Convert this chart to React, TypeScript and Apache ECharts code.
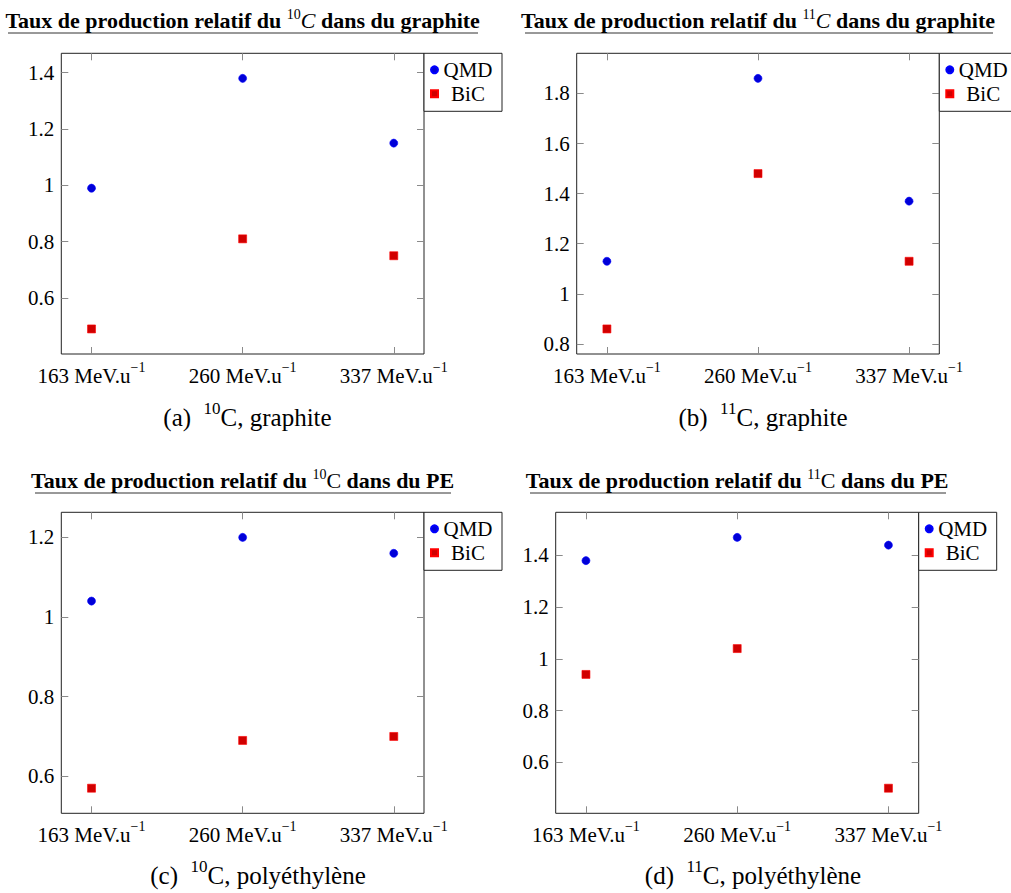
import React, { useEffect, useRef } from "react";
import * as echarts from "echarts";

const FONT = "'Liberation Serif', 'Times New Roman', serif";

const categories = ["163 MeV.u", "260 MeV.u", "337 MeV.u"];
const catSup = "−1";
const xPositions = [0, 1, 2];

const qmdA = [0.99, 1.38, 1.15];
const bicA = [0.49, 0.81, 0.75];
const qmdB = [1.13, 1.86, 1.37];
const bicB = [0.86, 1.48, 1.13];
const qmdC = [1.04, 1.2, 1.16];
const bicC = [0.57, 0.69, 0.7];
const qmdD = [1.38, 1.47, 1.44];
const bicD = [0.94, 1.04, 0.5];

const yTicksA = [0.6, 0.8, 1, 1.2, 1.4];
const yTicksB = [0.8, 1, 1.2, 1.4, 1.6, 1.8];
const yTicksC = [0.6, 0.8, 1, 1.2];
const yTicksD = [0.6, 0.8, 1, 1.2, 1.4];

const titleParts = [
  { iso: "10", matter: "graphite", italic: true },
  { iso: "11", matter: "graphite", italic: true },
  { iso: "10", matter: "PE", italic: false },
  { iso: "11", matter: "PE", italic: false },
];
const captionParts = [
  { tag: "(a)", iso: "10", matter: "graphite" },
  { tag: "(b)", iso: "11", matter: "graphite" },
  { tag: "(c)", iso: "10", matter: "polyéthylène" },
  { tag: "(d)", iso: "11", matter: "polyéthylène" },
];

// layout (pixels)
const grids = [
  { left: 61.3, top: 53.3, width: 362.7, height: 300.7 },
  { left: 576.7, top: 53.3, width: 362.6, height: 300.7 },
  { left: 61.3, top: 512.3, width: 362.7, height: 301 },
  { left: 555.7, top: 512.3, width: 363, height: 301 },
];
const titleY = [7, 7, 467, 467];
const underline = [
  { x1: 8, x2: 478, y: 33 },
  { x1: 525, x2: 993, y: 33 },
  { x1: 35, x2: 451, y: 493 },
  { x1: 530, x2: 946, y: 493 },
];
const captionPos = [
  { x: 247.5, y: 400 },
  { x: 763, y: 400 },
  { x: 258, y: 858 },
  { x: 753, y: 858 },
];

const BLUE_FILL = "#0000d8";
const BLUE_EDGE = "#0000ff";
const RED_FILL = "#d00000";
const RED_EDGE = "#ff0000";
const TICK = "#8a8a8a";

function enlarge(vals: number[]) {
  const lo = Math.min(...vals);
  const hi = Math.max(...vals);
  const pad = (hi - lo) * 0.1;
  return [lo - pad, hi + pad];
}

export default function App() {
  const ref = useRef<HTMLDivElement>(null);
  useEffect(() => {
    if (!ref.current) return;
    const chart = echarts.init(ref.current, null, { renderer: "svg" });
    const panels = [
      { qmd: qmdA, bic: bicA, ticks: yTicksA },
      { qmd: qmdB, bic: bicB, ticks: yTicksB },
      { qmd: qmdC, bic: bicC, ticks: yTicksC },
      { qmd: qmdD, bic: bicD, ticks: yTicksD },
    ];
    const xAxes: any[] = [];
    const yAxes: any[] = [];
    const series: any[] = [];
    const legends: any[] = [];
    const titles: any[] = [];
    const graphics: any[] = [];
    const tickStyle = { color: TICK, width: 1 };

    panels.forEach((p, i) => {
      const [ymin, ymax] = enlarge([...p.qmd, ...p.bic]);
      const g = grids[i];
      xAxes.push({
        type: "value",
        gridIndex: i,
        position: "bottom",
        min: -0.2,
        max: 2.2,
        axisLine: { show: false, onZero: false },
        splitLine: { show: false },
        axisTick: { show: true, inside: true, length: 7, customValues: xPositions, lineStyle: tickStyle },
        axisLabel: {
          show: true,
          customValues: xPositions,
          margin: 6,
          formatter: (v: number) => `{m|${categories[Math.round(v)]}}{s|${catSup}}`,
          rich: {
            m: { fontFamily: FONT, fontSize: 21, fontWeight: "normal", color: "#000", lineHeight: 26, verticalAlign: "bottom" },
            s: { fontFamily: FONT, fontSize: 14, fontWeight: "normal", color: "#000", lineHeight: 14, verticalAlign: "top" },
          },
        },
      });
      xAxes.push({
        type: "value",
        gridIndex: i,
        position: "top",
        min: -0.2,
        max: 2.2,
        axisLine: { show: false, onZero: false },
        splitLine: { show: false },
        axisLabel: { show: false },
        axisTick: { show: true, inside: true, length: 7, customValues: xPositions, lineStyle: tickStyle },
      });
      yAxes.push({
        type: "value",
        gridIndex: i,
        position: "left",
        min: ymin,
        max: ymax,
        axisLine: { show: false, onZero: false },
        splitLine: { show: false },
        axisTick: { show: true, inside: true, length: 7, customValues: p.ticks, lineStyle: tickStyle },
        axisLabel: {
          show: true,
          customValues: p.ticks,
          margin: 7,
          fontFamily: FONT,
          fontSize: 21,
          fontWeight: "normal",
          color: "#000",
          formatter: (v: number) => String(Math.round(v * 10) / 10),
        },
      });
      yAxes.push({
        type: "value",
        gridIndex: i,
        position: "right",
        min: ymin,
        max: ymax,
        axisLine: { show: false, onZero: false },
        splitLine: { show: false },
        axisLabel: { show: false },
        axisTick: { show: true, inside: true, length: 7, customValues: p.ticks, lineStyle: tickStyle },
      });
      series.push({
        name: "QMD",
        type: "scatter",
        xAxisIndex: i * 2,
        yAxisIndex: i * 2,
        symbol: "circle",
        symbolSize: 8,
        itemStyle: { color: BLUE_FILL, borderColor: BLUE_EDGE, borderWidth: 0.6, opacity: 1 },
        data: p.qmd.map((v, k) => [xPositions[k], v]),
      });
      series.push({
        name: "BiC",
        type: "scatter",
        xAxisIndex: i * 2,
        yAxisIndex: i * 2,
        symbol: "rect",
        symbolSize: 8,
        itemStyle: { color: RED_FILL, borderColor: RED_EDGE, borderWidth: 0.6, opacity: 1 },
        data: p.bic.map((v, k) => [xPositions[k], v]),
      });
      legends.push({
        orient: "vertical",
        left: g.left + g.width,
        top: g.top,
        padding: [6, 9, 7, 6],
        itemGap: 3,
        itemWidth: 7,
        itemHeight: 7,
        borderColor: "#222",
        borderWidth: 1,
        borderRadius: 0,
        backgroundColor: "#fff",
        selectedMode: false,
        data: [
          { name: "QMD", icon: "circle" },
          { name: "BiC", icon: "rect" },
        ],
        formatter: (name: string) => `{c|${name}}`,
        textStyle: {
          fontFamily: FONT,
          fontSize: 21,
          fontWeight: "normal",
          color: "#000",
          rich: {
            c: { fontFamily: FONT, fontSize: 21, fontWeight: "normal", color: "#000", width: 50, align: "center", lineHeight: 20 },
          },
        },
      });
      const t = titleParts[i];
      titles.push({
        left: g.left + g.width / 2,
        top: titleY[i],
        padding: 0,
        textAlign: "center",
        text: `{b|Taux de production relatif du }{s|${t.iso}}{${t.italic ? "i" : "n"}|C}{b| dans du ${t.matter}}`,
        textStyle: {
          fontFamily: FONT,
          fontWeight: "normal",
          rich: {
            b: { fontFamily: FONT, fontSize: 22, fontWeight: "bold", color: "#000", lineHeight: 24, verticalAlign: "bottom" },
            s: { fontFamily: FONT, fontSize: 14, fontWeight: "normal", color: "#000", lineHeight: 14, verticalAlign: "top" },
            i: { fontFamily: FONT, fontSize: 22, fontWeight: "normal", fontStyle: "italic", color: "#000", lineHeight: 24, verticalAlign: "bottom" },
            n: { fontFamily: FONT, fontSize: 22, fontWeight: "normal", color: "#000", lineHeight: 24, verticalAlign: "bottom" },
          },
        },
      });
      const c = captionParts[i];
      titles.push({
        left: captionPos[i].x,
        top: captionPos[i].y,
        padding: 0,
        textAlign: "center",
        text: `{n|${c.tag}  }{s|${c.iso}}{n|C, ${c.matter}}`,
        textStyle: {
          fontFamily: FONT,
          fontWeight: "normal",
          rich: {
            n: { fontFamily: FONT, fontSize: 25, fontWeight: "normal", color: "#000", lineHeight: 30, verticalAlign: "bottom" },
            s: { fontFamily: FONT, fontSize: 17, fontWeight: "normal", color: "#000", lineHeight: 17, verticalAlign: "top" },
          },
        },
      });
      const u = underline[i];
      graphics.push({
        type: "line",
        shape: { x1: u.x1, y1: u.y, x2: u.x2, y2: u.y },
        style: { stroke: "#333", lineWidth: 1 },
        silent: true,
      });
    });

    chart.setOption({
      animation: false,
      backgroundColor: "#fff",
      textStyle: { fontFamily: FONT, fontWeight: "normal" },
      grid: grids.map((g) => ({
        left: g.left,
        top: g.top,
        width: g.width,
        height: g.height,
        show: true,
        borderColor: "#222",
        borderWidth: 1,
        backgroundColor: "transparent",
        containLabel: false,
      })),
      title: titles,
      legend: legends,
      xAxis: xAxes,
      yAxis: yAxes,
      series,
      graphic: graphics,
    });
    return () => chart.dispose();
  }, []);
  return (
    <div
      ref={ref}
      style={{ position: "absolute", left: 0, top: 0, width: 1011, height: 893 }}
    />
  );
}
